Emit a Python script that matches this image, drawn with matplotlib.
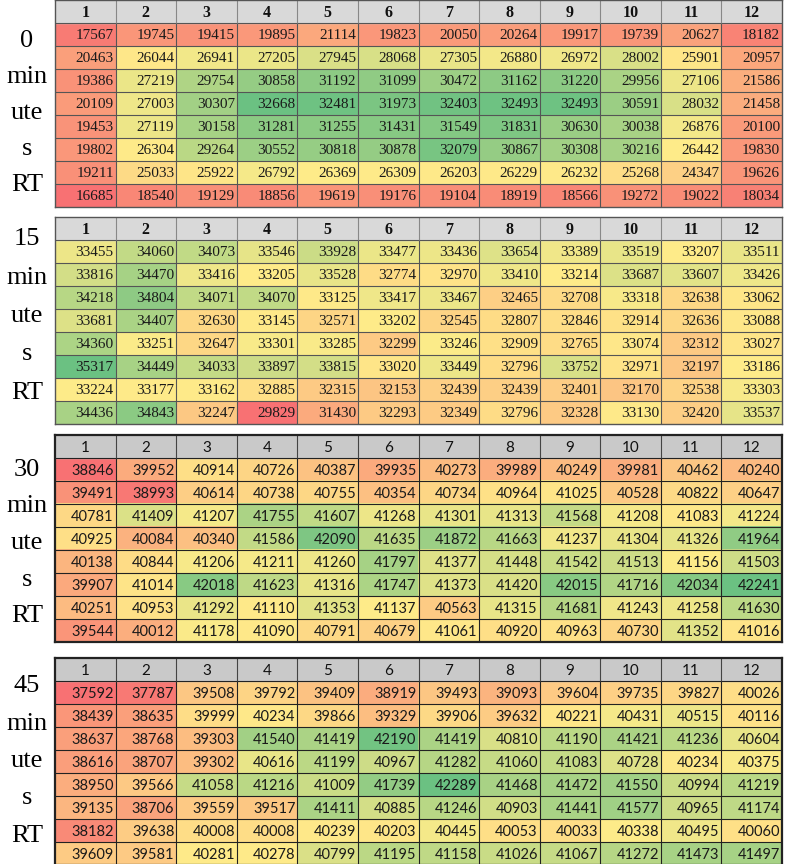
#!/usr/bin/env python3
"""Four plate-reader tables (0/15/30/45 min RT) drawn as Excel-style colour-scaled grids."""
import numpy as np
import matplotlib
matplotlib.use('Agg')
import matplotlib.pyplot as plt
from matplotlib.colors import LinearSegmentedColormap, TwoSlopeNorm
from matplotlib.patches import Rectangle

# --- data ---
columns = [str(i) for i in range(1, 13)]
time_labels = ['0', '15', '30', '45']

rt_0 = [
    [17567, 19745, 19415, 19895, 21114, 19823, 20050, 20264, 19917, 19739, 20627, 18182],
    [20463, 26044, 26941, 27205, 27945, 28068, 27305, 26880, 26972, 28002, 25901, 20957],
    [19386, 27219, 29754, 30858, 31192, 31099, 30472, 31162, 31220, 29956, 27106, 21586],
    [20109, 27003, 30307, 32668, 32481, 31973, 32403, 32493, 32493, 30591, 28032, 21458],
    [19453, 27119, 30158, 31281, 31255, 31431, 31549, 31831, 30630, 30038, 26876, 20100],
    [19802, 26304, 29264, 30552, 30818, 30878, 32079, 30867, 30308, 30216, 26442, 19830],
    [19211, 25033, 25922, 26792, 26369, 26309, 26203, 26229, 26232, 25268, 24347, 19626],
    [16685, 18540, 19129, 18856, 19619, 19176, 19104, 18919, 18566, 19272, 19022, 18034],
]
rt_15 = [
    [33455, 34060, 34073, 33546, 33928, 33477, 33436, 33654, 33389, 33519, 33207, 33511],
    [33816, 34470, 33416, 33205, 33528, 32774, 32970, 33410, 33214, 33687, 33607, 33426],
    [34218, 34804, 34071, 34070, 33125, 33417, 33467, 32465, 32708, 33318, 32638, 33062],
    [33681, 34407, 32630, 33145, 32571, 33202, 32545, 32807, 32846, 32914, 32636, 33088],
    [34360, 33251, 32647, 33301, 33285, 32299, 33246, 32909, 32765, 33074, 32312, 33027],
    [35317, 34449, 34033, 33897, 33815, 33020, 33449, 32796, 33752, 32971, 32197, 33186],
    [33224, 33177, 33162, 32885, 32315, 32153, 32439, 32439, 32401, 32170, 32538, 33303],
    [34436, 34843, 32247, 29829, 31430, 32293, 32349, 32796, 32328, 33130, 32420, 33537],
]
rt_30 = [
    [38846, 39952, 40914, 40726, 40387, 39935, 40273, 39989, 40249, 39981, 40462, 40240],
    [39491, 38993, 40614, 40738, 40755, 40354, 40734, 40964, 41025, 40528, 40822, 40647],
    [40781, 41409, 41207, 41755, 41607, 41268, 41301, 41313, 41568, 41208, 41083, 41224],
    [40925, 40084, 40340, 41586, 42090, 41635, 41872, 41663, 41237, 41304, 41326, 41964],
    [40138, 40844, 41206, 41211, 41260, 41797, 41377, 41448, 41542, 41513, 41156, 41503],
    [39907, 41014, 42018, 41623, 41316, 41747, 41373, 41420, 42015, 41716, 42034, 42241],
    [40251, 40953, 41292, 41110, 41353, 41137, 40563, 41315, 41681, 41243, 41258, 41630],
    [39544, 40012, 41178, 41090, 40791, 40679, 41061, 40920, 40963, 40730, 41352, 41016],
]
rt_45 = [
    [37592, 37787, 39508, 39792, 39409, 38919, 39493, 39093, 39604, 39735, 39827, 40026],
    [38439, 38635, 39999, 40234, 39866, 39329, 39906, 39632, 40221, 40431, 40515, 40116],
    [38637, 38768, 39303, 41540, 41419, 42190, 41419, 40810, 41190, 41421, 41236, 40604],
    [38616, 38707, 39302, 40616, 41199, 40967, 41282, 41060, 41083, 40728, 40234, 40375],
    [38950, 39566, 41058, 41216, 41009, 41739, 42289, 41468, 41472, 41550, 40994, 41219],
    [39135, 38706, 39559, 39517, 41411, 40885, 41246, 40903, 41441, 41577, 40965, 41174],
    [38182, 39638, 40008, 40008, 40239, 40203, 40445, 40053, 40033, 40338, 40495, 40060],
    [39609, 39581, 40281, 40278, 40799, 41195, 41158, 41026, 41067, 41272, 41473, 41497],
]
tables = [rt_0, rt_15, rt_30, rt_45]

# Excel red-yellow-green 3-colour scale (min / 50th percentile / max)
cmap = LinearSegmentedColormap.from_list('ryg', ['#F8696B', '#FFEB84', '#63BE7B'])

W, H = 786, 864
fig = plt.figure(figsize=(W / 100, H / 100), dpi=100)

# panel geometry in pixels: (top, first label baseline, label spacing)
panels = [(0, 47, 36.0), (217, 245, 38.5), (435, 476, 36.5), (658, 692, 37.5)]
left, right = 55, 782
row_h = 23

for k, (data, tl, (top, base, step)) in enumerate(zip(tables, time_labels, panels)):
    arr = np.array(data, dtype=float)
    serif = k < 2
    h = row_h * 9
    ax = fig.add_axes([left / W, 1 - (top + h) / H, (right - left) / W, h / H])
    norm = TwoSlopeNorm(vmin=arr.min(), vcenter=np.median(arr), vmax=arr.max())
    ax.imshow(arr, cmap=cmap, norm=norm, extent=(0, 12, 9, 1), aspect='auto',
              interpolation='nearest', alpha=0.95)
    ax.add_patch(Rectangle((0, 0), 12, 1, color='#d9d9d9' if serif else '#c9c9c9'))
    ax.set_xlim(0, 12)
    ax.set_ylim(9, 0)
    ax.set_xticks([])
    ax.set_yticks([])

    line_c = '#555555' if serif else '#222222'
    ax.hlines(range(1, 9), 0, 12, color=line_c, lw=0.8)
    ax.vlines(range(1, 12), 1, 9, color=line_c, lw=0.8)
    ax.vlines(range(1, 12), 0, 1, color='#888888' if serif else '#444444', lw=0.8)
    for s in ax.spines.values():
        s.set_color(line_c)
        s.set_linewidth(1.0 if serif else 1.6)

    if serif:
        num_font = dict(family='Liberation Serif', fontsize=11)
        head_font = dict(family='Liberation Serif', fontsize=11.5, fontweight='bold')
    else:
        num_font = dict(family='Lato', fontsize=10.5)
        head_font = dict(family='Lato', fontsize=11)

    for j, c in enumerate(columns):
        ax.text(j + 0.5, 0.55, c, ha='center', va='center', color='#111111', **head_font)
    for i in range(arr.shape[0]):
        for j in range(arr.shape[1]):
            ax.text(j + 0.97, i + 1.55, f'{int(arr[i, j])}', ha='right', va='center',
                    color='#1a1a1a', **num_font)

    # stacked side label
    for n, word in enumerate([tl, 'min', 'ute', 's', 'RT']):
        fig.text(27 / W, 1 - (base + n * step) / H, word, ha='center', va='baseline',
                 family='Liberation Serif', fontsize=19, color='black')

fig.savefig('out.png', dpi=100)
print("saved out.png")
